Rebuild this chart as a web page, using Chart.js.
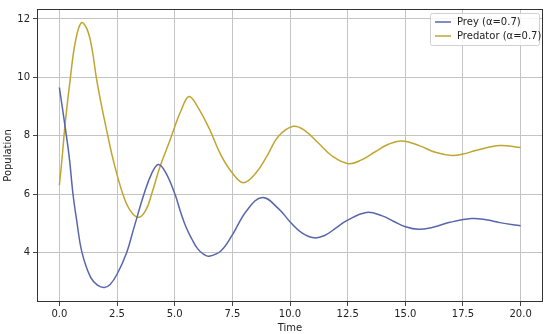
<!DOCTYPE html>
<html>
<head>
<meta charset="utf-8">
<script src="https://cdn.jsdelivr.net/npm/chart.js@4"></script>
<style>
  html, body { margin: 0; padding: 0; background: #fff; }
  #wrap { width: 550px; height: 334px; }
</style>
</head>
<body>
<div id="wrap"><canvas id="chart" width="550" height="334"></canvas></div>
<script>
// values
const preyTime = [0, 0.25, 0.43, 0.59, 0.75, 0.98, 1.35, 1.65, 1.95, 2.2, 2.5, 2.92, 3.21, 3.67, 4.0, 4.29, 4.6, 5.01, 5.25, 5.5, 5.75, 6.0, 6.25, 6.49, 7.0, 7.5, 8.12, 8.8, 9.5, 10.0, 10.5, 11.04, 11.5, 12.0, 12.46, 13.32, 14.0, 14.5, 15.0, 15.56, 16.2, 16.93, 17.87, 18.5, 19.1, 20];
const preyPop = [9.65, 8.3, 7.25, 6.0, 5.1, 4.0, 3.15, 2.88, 2.8, 2.9, 3.25, 4.0, 4.78, 6.0, 6.7, 7.01, 6.75, 6.0, 5.4, 4.85, 4.45, 4.12, 3.94, 3.87, 4.05, 4.6, 5.43, 5.88, 5.5, 5.05, 4.68, 4.5, 4.58, 4.84, 5.09, 5.37, 5.25, 5.06, 4.88, 4.79, 4.86, 5.03, 5.16, 5.12, 5.02, 4.91];

const predTime = [0, 0.12, 0.26, 0.48, 0.69, 0.95, 1.2, 1.42, 1.6, 1.85, 2.1, 2.34, 2.75, 3.06, 3.43, 3.75, 4.0, 4.37, 4.8, 5.0, 5.25, 5.62, 6.0, 6.5, 7.0, 7.5, 7.98, 8.5, 9.0, 9.5, 10.14, 10.6, 11.23, 11.8, 12.53, 13.1, 13.68, 14.2, 14.84, 15.63, 16.3, 17.01, 17.5, 18.09, 19.1, 20];
const predPop = [6.3, 7.25, 8.49, 10.0, 11.2, 11.87, 11.65, 10.95, 10.0, 8.94, 8.0, 7.15, 6.0, 5.45, 5.2, 5.45, 6.0, 6.95, 7.85, 8.3, 8.81, 9.34, 8.98, 8.24, 7.34, 6.72, 6.39, 6.7, 7.3, 7.98, 8.32, 8.2, 7.75, 7.32, 7.04, 7.17, 7.44, 7.68, 7.82, 7.65, 7.43, 7.32, 7.37, 7.5, 7.66, 7.59];

const xTicks = [0, 2.5, 5, 7.5, 10, 12.5, 15, 17.5, 20];
const yTicks = [4, 6, 8, 10, 12];
const seriesLabels = ["Prey (\u03b1=0.7)", "Predator (\u03b1=0.7)"];
const seriesColors = ["rgb(88,102,172)", "rgb(192,166,48)"];

const FONT = "'DejaVu Sans', sans-serif";
Chart.defaults.font.family = FONT;
Chart.defaults.font.size = 10;
Chart.defaults.color = "#222";

function toPoints(xs, ys) {
  return xs.map((x, i) => ({ x: x, y: ys[i] }));
}

// box around the plot + legend in the upper right, like matplotlib
const framePlugin = {
  id: "frame",
  beforeDraw(chart) {
    const c = chart.ctx;
    c.save();
    c.fillStyle = "#fff";
    c.fillRect(0, 0, chart.width, chart.height);
    c.restore();
  },
  afterDraw(chart) {
    const c = chart.ctx;
    const a = chart.chartArea;
    c.save();
    c.strokeStyle = "#333";
    c.lineWidth = 1;
    c.strokeRect(a.left + 0.5, a.top + 0.5, a.right - a.left - 1, a.bottom - a.top - 1);

    // legend
    const bx = a.right - 113, by = a.top + 4, bw = 109, bh = 32;
    c.fillStyle = "rgba(255,255,255,0.85)";
    c.strokeStyle = "#d0d0d0";
    c.beginPath();
    c.roundRect(bx + 0.5, by + 0.5, bw, bh, 2);
    c.fill();
    c.stroke();
    c.font = "10px " + FONT;
    c.textBaseline = "middle";
    chart.data.datasets.forEach((ds, i) => {
      const y = by + 9 + i * 14;
      c.strokeStyle = ds.borderColor;
      c.lineWidth = 1.5;
      c.beginPath();
      c.moveTo(bx + 5, y);
      c.lineTo(bx + 21, y);
      c.stroke();
      c.fillStyle = "#222";
      c.fillText(ds.label, bx + 27, y);
    });
    c.restore();
  }
};

new Chart(document.getElementById("chart"), {
  type: "line",
  data: {
    datasets: [
      {
        label: seriesLabels[0],
        data: toPoints(preyTime, preyPop),
        borderColor: seriesColors[0],
        borderWidth: 1.5,
        pointRadius: 0,
        tension: 0.4,
        fill: false
      },
      {
        label: seriesLabels[1],
        data: toPoints(predTime, predPop),
        borderColor: seriesColors[1],
        borderWidth: 1.5,
        pointRadius: 0,
        tension: 0.4,
        fill: false
      }
    ]
  },
  options: {
    responsive: false,
    animation: false,
    layout: { padding: { top: 6, right: 7, left: 2, bottom: 0 } },
    plugins: { legend: { display: false }, tooltip: { enabled: false } },
    scales: {
      x: {
        type: "linear",
        min: -0.97,
        max: 20.97,
        afterBuildTicks: s => { s.ticks = xTicks.map(v => ({ value: v })); },
        afterFit: s => { s.height = 32; },
        ticks: { callback: v => Number(v).toFixed(1), padding: 2, maxRotation: 0, font: { size: 10 } },
        grid: { color: "#c4c4c4", lineWidth: 1, tickLength: 4, tickColor: "#444" },
        border: { display: false },
        title: { display: true, text: "Time", padding: { top: 0, bottom: 0 }, font: { size: 10 } }
      },
      y: {
        type: "linear",
        min: 2.3,
        max: 12.34,
        afterBuildTicks: s => { s.ticks = yTicks.map(v => ({ value: v })); },
        afterFit: s => { s.width = 35; },
        ticks: { padding: 3, font: { size: 10 } },
        grid: { color: "#c4c4c4", lineWidth: 1, tickLength: 4, tickColor: "#444" },
        border: { display: false },
        title: { display: true, text: "Population", padding: { top: 0, bottom: 2 }, font: { size: 10 } }
      }
    }
  },
  plugins: [framePlugin]
});
</script>
</body>
</html>
